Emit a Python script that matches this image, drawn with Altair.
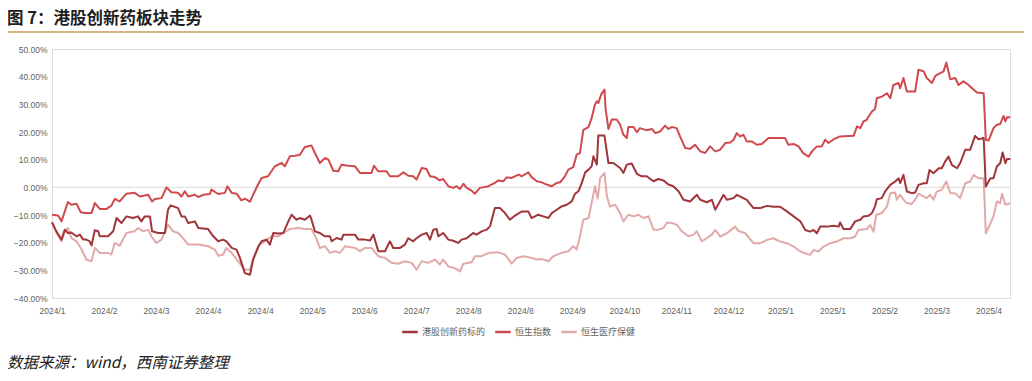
import json
import altair as alt
import pandas as pd

title_text = "图 7：港股创新药板块走势"
source_text = "数据来源：wind，西南证券整理"
series_names = ["港股创新药标的", "恒生指数", "恒生医疗保健"]
series_colors = ["#A0353A", "#CF4A4E", "#E2A9A9"]

# x axis: trading-day index, a label every 17 trading days
tick_labels = ["2024/1", "2024/2", "2024/3", "2024/4", "2024/4", "2024/5", "2024/6",
               "2024/7", "2024/8", "2024/8", "2024/9", "2024/10", "2024/11", "2024/12",
               "2025/1", "2025/1", "2025/2", "2025/3", "2025/4"]
tick_step = 17
y_ticks = [-40, -30, -20, -10, 0, 10, 20, 30, 40, 50]

# (trading day, cumulative return %)
drug = [(0.0,-12.7),(1.4,-15.9),(3.1,-18.9),(4.2,-15.3),(5.2,-16.5),(6.3,-16.3),(8.0,-17.7),(9.1,-17.1),
        (10.2,-18.9),(11.2,-18.9),(12.3,-19.5),(12.9,-21.0),(14.0,-15.5),(15.1,-15.9),(15.6,-17.7),(18.3,-17.7),
        (20.0,-15.9),(21.1,-11.1),(22.7,-12.9),(24.3,-10.5),(26.5,-11.1),(28.1,-10.5),(29.2,-12.3),(30.3,-10.5),
        (32.0,-10.5),(32.7,-15.9),(34.7,-16.5),(36.9,-16.5),(37.9,-8.1),(38.8,-6.5),(41.2,-7.5),(42.3,-10.5),
        (43.4,-10.5),(44.5,-12.9),(46.7,-12.3),(47.8,-14.7),(51.0,-15.1),(52.7,-17.7),(54.3,-19.5),(55.9,-18.9),
        (57.0,-19.5),(58.7,-21.9),(60.3,-22.5),(61.4,-25.5),(63.0,-31.0),(64.7,-31.6),(65.7,-26.1),(67.4,-21.3),
        (68.5,-19.5),(70.1,-18.9),(71.2,-20.7),(72.3,-16.5),(73.9,-16.7),(75.6,-16.5),(77.2,-12.3),(78.3,-9.9),
        (79.9,-11.7),(81.0,-11.1),(82.6,-11.7),(84.3,-10.2),(84.8,-11.7),(85.9,-15.9),(87.5,-16.5),(89.2,-17.7),
        (90.8,-17.7),(91.4,-19.5),(93.0,-18.3),(94.6,-18.9),(95.2,-17.1),(97.4,-17.1),(99.0,-17.1),(100.1,-18.9),
        (102.3,-18.9),(103.9,-19.2),(105.0,-17.1),(106.6,-23.1),(108.8,-23.1),(110.4,-19.5),(111.5,-21.9),
        (113.7,-21.9),(115.3,-20.7),(116.4,-18.4),(118.0,-19.5),(119.1,-18.4),(120.8,-17.1),(122.4,-16.5),
        (123.5,-18.9),(124.6,-15.3),(125.7,-15.1),(126.2,-17.7),(127.8,-16.5),(129.5,-18.9),(131.1,-19.3),
        (132.7,-20.1),(133.8,-18.9),(135.5,-18.4),(137.6,-16.5),(138.7,-17.1),(140.4,-15.9),(142.0,-15.3),
        (143.1,-14.1),(144.7,-7.5),(146.4,-7.5),(148.0,-9.3),(149.6,-11.7),(151.3,-10.2),(153.5,-8.7),
        (155.6,-8.7),(156.7,-11.1),(158.9,-9.9),(160.5,-10.5),(162.2,-11.1),(163.3,-9.3),(164.9,-8.1),
        (166.5,-6.9),(168.2,-6.3),(169.8,-5.1),(170.9,-2.3),(172.0,-1.4),(173.1,1.6),(174.2,5.4),(175.3,6.4),
        (176.3,7.6),(176.9,11.2),(178.0,8.2),(178.5,18.7),(180.5,18.7),(181.8,8.8),(183.4,8.8),(185.6,7.0),
        (186.7,5.2),(187.8,8.2),(189.4,8.6),(191.1,4.9),(192.7,4.0),(194.3,4.0),(196.5,2.2),(198.1,3.0),
        (199.8,2.5),(201.4,1.0),(203.0,0.4),(204.7,-1.4),(206.3,-4.5),(208.5,-5.1),(210.7,-2.7),(211.8,-4.5),
        (213.9,-5.4),(215.6,-4.5),(216.7,-8.1),(219.4,-2.7),(220.5,-4.5),(222.7,-3.9),(223.7,-2.7),(225.4,-3.6),
        (227.0,-4.5),(229.2,-7.5),(231.4,-7.5),(233.6,-6.7),(235.7,-7.0),(237.9,-7.0),(240.1,-8.7),(242.3,-10.5),
        (244.5,-12.3),(246.1,-15.4),(247.7,-16.0),(248.8,-15.4),(249.9,-16.6),(251.0,-14.2),(253.2,-14.2),
        (255.4,-13.9),(257.0,-14.2),(257.5,-12.7),(258.6,-15.1),(260.8,-15.1),(262.4,-12.3),(264.1,-11.7),
        (265.1,-10.5),(266.8,-10.3),(267.9,-9.3),(268.9,-6.9),(269.5,-4.3),(271.1,-3.9),(272.2,-1.5),(273.9,0.9),
        (275.5,2.1),(276.6,3.3),(277.1,1.5),(278.2,4.5),(279.3,-1.5),(280.9,-2.1),(282.0,-1.9),(283.1,0.9),
        (284.8,1.5),(285.8,1.5),(286.7,6.3),(288.0,5.1),(289.7,6.9),(290.7,6.9),(291.8,9.3),(292.9,11.1),
        (294.0,8.1),(295.7,6.9),(296.7,8.7),(298.4,13.6),(300.0,13.6),(301.6,18.6),(302.7,17.4),(304.4,17.8),
        (305.1,0.3),(306.6,3.3),(307.6,3.3),(308.7,7.5),(309.8,8.7),(310.6,12.6),(311.5,8.7),(312.0,10.2),
        (313.1,10.2)]

hsi = [(0.0,-9.9),(2.0,-10.2),(3.1,-12.3),(5.2,-5.3),(6.3,-6.3),(8.0,-5.9),(9.4,-9.0),(10.7,-9.3),(12.9,-9.3),
       (14.0,-5.7),(15.6,-7.8),(17.8,-7.8),(19.4,-6.6),(20.5,-4.2),(22.1,-5.1),(24.3,-2.3),(27.0,-2.0),
       (28.7,-3.3),(31.4,-2.7),(32.7,-5.1),(33.6,-4.2),(35.8,-3.9),(37.4,0.0),(39.0,-1.8),(41.2,-2.0),
       (42.3,-3.3),(43.4,-1.4),(44.5,-3.3),(46.7,-2.7),(47.8,-3.5),(49.4,-2.7),(51.6,-2.4),(52.1,-0.8),
       (54.3,-2.4),(56.5,-2.0),(57.3,0.4),(58.7,-2.0),(60.3,-2.3),(61.9,-4.7),(63.0,-4.1),(64.7,-5.2),
       (65.7,-2.7),(67.4,1.2),(68.5,3.4),(70.6,4.0),(72.8,7.6),(75.0,8.8),(76.1,7.6),(77.7,11.2),(79.4,11.4),
       (81.0,11.8),(82.6,14.6),(84.8,15.1),(85.9,12.4),(87.5,8.8),(89.2,10.6),(90.3,10.0),(91.9,6.0),(93.5,5.8),
       (94.6,8.2),(96.8,7.8),(99.0,7.6),(100.6,5.2),(102.3,5.2),(104.4,5.2),(105.2,7.8),(106.6,5.8),(109.3,5.8),
       (110.4,4.0),(113.1,4.0),(114.8,5.4),(116.4,4.2),(118.0,4.0),(119.1,2.8),(120.8,7.0),(122.4,6.6),
       (123.5,4.0),(125.1,3.7),(126.7,2.5),(127.8,3.0),(129.5,0.4),(131.1,-0.2),(132.2,0.4),(133.3,-0.6),
       (134.4,1.3),(135.5,-0.2),(137.1,-1.2),(138.2,-2.3),(139.8,-0.2),(142.6,0.4),(144.7,1.6),(145.8,2.5),
       (147.5,2.2),(148.5,3.6),(150.2,3.4),(152.4,4.6),(153.5,4.0),(155.6,5.4),(156.7,3.7),(158.4,2.2),
       (160.0,1.8),(161.6,1.0),(163.3,0.4),(164.9,1.6),(166.0,1.8),(167.6,4.0),(168.7,6.4),(170.3,7.3),
       (171.4,11.8),(172.5,12.4),(173.6,20.8),(175.3,21.8),(176.3,25.0),(177.4,29.9),(178.0,31.1),(178.5,30.5),
       (179.4,33.5),(180.5,35.3),(180.9,28.1),(181.8,21.1),(182.9,24.5),(184.5,24.5),(185.6,22.7),(186.7,19.0),
       (187.8,17.8),(188.3,21.8),(190.0,21.8),(191.1,19.9),(192.1,21.4),(194.3,20.6),(196.0,21.1),(197.1,19.6),
       (198.7,20.2),(200.3,22.3),(201.4,21.1),(202.5,21.8),(204.1,21.4),(205.2,18.4),(206.9,14.2),(208.5,13.9),
       (210.1,15.4),(211.8,13.0),(213.4,12.4),(215.0,14.8),(216.7,13.0),(218.3,13.6),(220.0,16.0),(221.6,16.2),
       (222.7,17.2),(223.7,19.6),(224.8,18.4),(225.9,19.0),(227.0,16.6),(228.6,16.6),(230.3,15.4),(231.9,15.7),
       (234.1,17.8),(236.8,17.8),(239.5,17.8),(240.6,15.4),(242.3,15.7),(243.9,14.8),(245.5,12.3),(247.2,11.1),
       (248.3,13.0),(249.9,14.8),(251.5,14.8),(252.6,17.2),(253.7,16.0),(255.4,17.4),(257.5,18.4),(261.9,18.6),
       (263.0,22.0),(264.1,21.4),(265.1,23.8),(266.2,24.4),(266.8,25.6),(267.9,27.4),(268.9,28.3),(269.5,32.2),
       (271.1,32.8),(272.8,34.0),(273.9,32.2),(274.9,37.0),(276.6,37.7),(277.1,35.8),(278.2,39.5),(279.3,34.6),
       (282.0,34.6),(283.1,42.5),(284.8,41.9),(285.8,39.5),(287.5,37.7),(288.6,40.3),(290.2,41.3),(291.3,41.9),
       (292.2,45.1),(293.5,39.1),(295.1,39.5),(296.2,37.0),(297.8,38.3),(299.5,37.0),(300.6,35.8),(302.2,34.3),
       (304.4,34.0),(305.1,17.2),(306.0,16.9),(307.6,21.4),(308.7,22.6),(309.8,22.9),(310.9,25.8),(311.5,23.8),
       (312.0,25.3),(313.1,25.3)]

hc = [(0.0,-12.3),(1.4,-16.3),(3.1,-19.5),(4.2,-15.9),(5.2,-14.7),(6.3,-18.3),(8.0,-19.5),(9.6,-22.3),
      (11.2,-26.1),(12.9,-26.7),(14.0,-21.9),(15.6,-23.7),(18.3,-23.7),(19.4,-24.3),(20.5,-20.1),(22.1,-21.1),
      (24.3,-16.5),(27.0,-15.9),(28.1,-14.7),(29.8,-15.9),(31.4,-15.3),(32.5,-17.7),(34.1,-20.1),(35.8,-18.9),
      (37.9,-13.5),(39.6,-15.9),(41.2,-16.5),(42.3,-17.7),(44.5,-20.7),(47.8,-20.7),(51.0,-21.3),(53.2,-22.5),
      (54.3,-24.7),(55.9,-24.3),(57.0,-21.9),(58.7,-23.7),(60.8,-26.7),(63.0,-29.8),(64.7,-29.8),(65.7,-26.1),
      (67.9,-20.7),(69.6,-19.5),(71.7,-17.7),(73.9,-17.7),(75.6,-16.5),(77.7,-15.1),(80.5,-14.7),(82.6,-15.1),
      (84.8,-15.1),(86.5,-18.9),(87.5,-21.9),(89.2,-21.3),(90.8,-23.7),(92.4,-23.1),(94.1,-23.7),(95.7,-21.3),
      (99.0,-21.9),(100.6,-23.1),(102.3,-21.9),(104.4,-21.9),(106.6,-24.9),(108.8,-25.5),(111.0,-27.3),
      (113.1,-27.6),(115.3,-26.7),(117.5,-27.3),(119.1,-29.8),(120.8,-26.7),(122.9,-27.3),(125.1,-26.1),
      (126.7,-27.9),(127.8,-26.1),(129.5,-28.6),(131.6,-29.2),(133.3,-30.4),(134.4,-27.6),(137.1,-27.1),
      (138.2,-24.9),(140.4,-24.9),(142.6,-23.7),(145.8,-23.5),(148.0,-24.3),(150.2,-27.6),(151.8,-25.5),
      (154.0,-24.9),(156.7,-25.5),(158.4,-26.1),(160.0,-25.9),(162.2,-26.7),(163.8,-24.9),(166.5,-23.7),
      (168.7,-23.1),(170.3,-21.3),(171.4,-22.5),(172.5,-17.7),(173.6,-11.7),(175.3,-11.1),(176.3,-5.7),
      (177.4,0.4),(178.3,-4.1),(179.1,3.4),(180.5,5.2),(181.3,-3.3),(182.3,-6.9),(184.0,-6.3),(185.6,-9.3),
      (186.7,-12.3),(188.3,-9.9),(190.0,-10.5),(191.6,-9.9),(193.2,-11.1),(194.9,-10.5),(196.5,-15.3),
      (198.1,-15.3),(199.8,-14.7),(200.9,-12.7),(202.5,-12.9),(204.1,-13.5),(205.8,-15.9),(207.9,-17.7),
      (209.6,-17.1),(210.7,-15.9),(212.3,-19.5),(213.9,-18.4),(215.6,-17.1),(216.7,-15.4),(218.3,-17.8),
      (220.5,-16.6),(223.2,-14.2),(224.3,-15.8),(226.5,-16.6),(229.2,-20.2),(231.4,-20.2),(233.6,-19.0),
      (235.7,-18.4),(237.9,-19.6),(240.1,-20.2),(242.3,-21.4),(244.5,-23.2),(246.1,-23.8),(247.7,-24.4),
      (248.8,-22.6),(250.4,-23.2),(252.1,-21.4),(254.3,-20.2),(256.4,-19.6),(258.6,-18.4),(260.8,-18.4),
      (262.4,-17.8),(263.5,-15.4),(266.2,-15.1),(267.3,-13.6),(268.4,-16.0),(269.3,-9.9),(271.1,-9.3),
      (272.8,-6.9),(273.9,-2.1),(275.5,-1.9),(276.0,-4.5),(277.1,-2.7),(278.2,-4.5),(279.3,-5.7),(280.9,-6.0),
      (282.0,-4.5),(283.1,-2.3),(284.8,-3.3),(285.8,-3.9),(286.9,-2.7),(288.0,-4.5),(289.1,-1.5),(290.7,-0.9),
      (292.2,2.1),(293.5,-2.1),(295.1,-2.1),(296.7,-3.9),(298.4,1.5),(300.0,2.1),(301.1,4.5),(302.7,3.3),
      (304.4,3.3),(305.1,-16.6),(306.6,-13.0),(307.6,-10.5),(308.7,-5.1),(309.8,-5.7),(310.4,-2.3),
      (311.5,-6.3),(313.1,-5.7)]

rows = []
# draw order: light series first, darkest last (on top)
for name, pts in [(series_names[2], hc), (series_names[1], hsi), (series_names[0], drug)]:
    for d, v in pts:
        rows.append({"day": d, "value": v, "series": name})
df = pd.DataFrame(rows)

x_max = 313
tick_vals = [i * tick_step for i in range(len(tick_labels))]
label_expr = json.dumps(tick_labels, ensure_ascii=False) + f"[round(datum.value/{tick_step})]"

axis_font = "Liberation Sans"
axis_color = "#5f5f5f"
cjk = "Noto Sans CJK SC"

lines = alt.Chart(df).mark_line(strokeWidth=2, strokeJoin="round").encode(
    x=alt.X("day:Q",
            scale=alt.Scale(domain=[0, x_max], nice=False, zero=False),
            axis=alt.Axis(values=tick_vals, tickCount=len(tick_vals) + 5,
                          labelExpr=label_expr, title=None, grid=False,
                          ticks=False, domain=False, labelPadding=8, labelFontSize=8.5,
                          labelFont=axis_font, labelColor=axis_color, labelFlush=False,
                          labelOverlap=False)),
    y=alt.Y("value:Q",
            scale=alt.Scale(domain=[-40, 50], nice=False),
            axis=alt.Axis(values=y_ticks, tickCount=len(y_ticks) + 5,
                          labelExpr="format(datum.value, '.2f') + '%'",
                          title=None, grid=False, ticks=False, domain=False, labelPadding=5,
                          labelFontSize=8.5, labelFont=axis_font, labelColor=axis_color,
                          labelOverlap=False, labelFlush=False)),
    color=alt.Color("series:N",
                    scale=alt.Scale(domain=series_names, range=series_colors),
                    legend=alt.Legend(orient="none", legendX=349, legendY=274,
                                      direction="horizontal", title=None,
                                      symbolType="stroke", symbolSize=240,
                                      symbolStrokeWidth=2.5, labelFont=cjk,
                                      labelFontSize=9, labelColor=axis_color,
                                      labelOffset=3, columnPadding=4, padding=0)),
)

zero_line = alt.Chart(pd.DataFrame({"y": [0]})).mark_rule(
    color="#DADADA", strokeWidth=1).encode(y="y:Q")

one = pd.DataFrame({"t": [title_text], "s": [source_text]})
title = alt.Chart(one).mark_text(align="left", baseline="middle", fontSize=16.5,
                                 fontWeight="bold", font=cjk, color="#1e1e1e").encode(
    x=alt.value(-45), y=alt.value(-30.5), text="t:N")
title_rule = alt.Chart(one).mark_rule(color="#C99A58", strokeWidth=1.5).encode(
    x=alt.value(-47), x2=alt.value(972), y=alt.value(-17))
source = alt.Chart(one).mark_text(align="left", baseline="middle", fontSize=15.5,
                                  fontStyle="italic", font=cjk, color="#222222").encode(
    x=alt.value(-45), y=alt.value(314), text="s:N")

chart = alt.layer(zero_line, lines, title, title_rule, source).properties(
    width=958, height=249,
    autosize=alt.AutoSizeParams(type="none"),
    padding={"left": 44, "top": 41, "right": 14, "bottom": 75},
).configure_view(stroke=None).configure(background="white")

chart.save("out.html", embed_options={"renderer": "svg", "actions": False})
